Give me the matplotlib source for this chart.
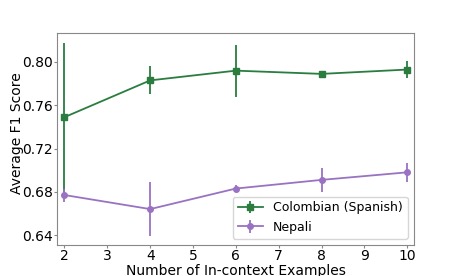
import matplotlib
matplotlib.use('Agg')
import matplotlib.pyplot as plt

# 数据
shots = [2, 4, 6, 8, 10]
colombian = [0.749, 0.783, 0.792, 0.789, 0.793]
colombian_err = [0.069, 0.013, 0.024, 0.001, 0.008]
nepali = [0.677, 0.664, 0.683, 0.691, 0.698]
nepali_err = [0.006, 0.025, 0.003, 0.011, 0.009]
yticks = [0.64, 0.68, 0.72, 0.76, 0.80]

fig = plt.figure(figsize=(4.6, 2.76), dpi=100)
ax = fig.add_axes([57 / 460, 1 - 245 / 276, 357 / 460, 212 / 276])

ax.errorbar(shots, colombian, yerr=colombian_err, color='#2a7d3f', marker='s',
            markersize=4, linewidth=1.3, elinewidth=1.3, label='Colombian (Spanish)')
ax.errorbar(shots, nepali, yerr=nepali_err, color='#9a72c2', marker='o',
            markersize=4, linewidth=1.3, elinewidth=1.3, label='Nepali')

ax.set_xlim(1.825, 10.157)
ax.set_ylim(0.6308, 0.8268)
ax.set_xticks(range(2, 11))
ax.set_yticks(yticks)
ax.set_yticklabels([f'{v:.2f}' for v in yticks])
ax.tick_params(labelsize=10, length=2, pad=1, color='#888888')
ax.set_xlabel('Number of In-context Examples', fontsize=10)
ax.set_ylabel('Average F1 Score', fontsize=10)
ax.xaxis.set_label_coords(0.5, -0.09)
ax.yaxis.set_label_coords(-0.092, 0.53)
for s in ax.spines.values():
    s.set_color('#888888')

ax.legend(loc='lower right', fontsize=9)

fig.savefig('out.png', dpi=100)
